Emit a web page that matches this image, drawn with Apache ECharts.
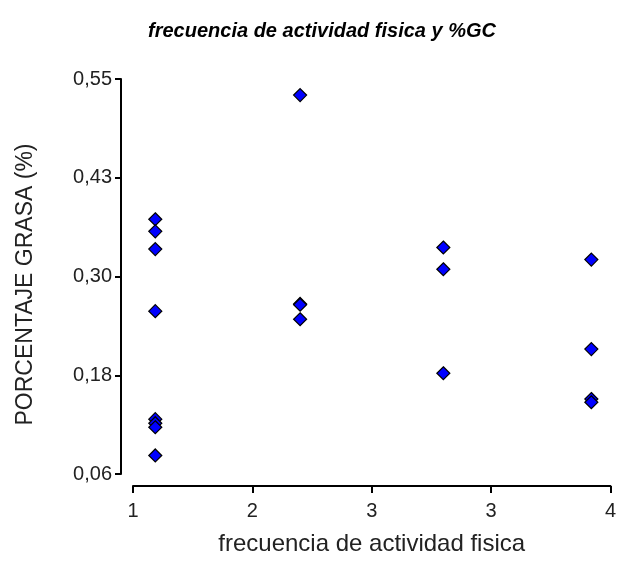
<!DOCTYPE html>
<html>
<head>
<meta charset="utf-8">
<script src="https://cdn.jsdelivr.net/npm/echarts@6/dist/echarts.min.js"></script>
<style>
  html, body { margin: 0; padding: 0; background: #fff; }
  #chart { width: 619px; height: 561px; }
</style>
</head>
<body>
<div id="chart"></div>
<script>
// datos
const frecuencia = [
  1.14, 1.14, 1.14, 1.14, 1.14, 1.14, 1.14, 1.14,
  2.05, 2.05, 2.05, 2.05,
  2.95, 2.95, 2.95,
  3.88, 3.88, 3.88, 3.88
];
const grasa = [
  0.376, 0.361, 0.339, 0.262, 0.128, 0.123, 0.118, 0.083,
  0.530, 0.271, 0.270, 0.252,
  0.341, 0.314, 0.185,
  0.326, 0.215, 0.153, 0.149
];

// ticks del eje (los rotulos vienen redondeados como en el original)
const yTicks = [0.06, 0.1825, 0.305, 0.4275, 0.55];
const yTickLabels = ["0,06", "0,18", "0,30", "0,43", "0,55"];
const xTicks = [1, 1.75, 2.5, 3.25, 4];
const xTickLabels = ["1", "2", "3", "3", "4"];

const puntos = frecuencia.map((x, i) => [x, grasa[i]]);

const chart = echarts.init(document.getElementById("chart"));

const option = {
  animation: false,
  title: {
    text: "frecuencia de actividad fisica y %GC",
    left: 317,
    top: 16,
    textAlign: "center",
    textStyle: {
      fontFamily: "Liberation Sans",
      fontStyle: "italic",
      fontWeight: "bold",
      fontSize: 20,
      color: "#000",
    },
  },
  grid: {
    left: 133,
    right: 5,
    top: 79,
    bottom: 86,
  },
  xAxis: {
    type: "value",
    min: 1,
    max: 4,
    offset: 12,
    name: "frecuencia de actividad fisica",
    nameLocation: "middle",
    nameGap: 46,
    nameTextStyle: {
      fontFamily: "Liberation Sans",
      fontSize: 24,
      color: "#222",
    },
    splitLine: { show: false },
    axisLine: { lineStyle: { color: "#000", width: 2 } },
    axisTick: {
      customValues: xTicks,
      length: 7,
      lineStyle: { color: "#000", width: 2 },
    },
    axisLabel: {
      customValues: xTicks,
      formatter: (v) => xTickLabels[xTicks.indexOf(v)],
      fontFamily: "Liberation Sans",
      fontSize: 20,
      color: "#222",
      margin: 15,
    },
  },
  yAxis: {
    type: "value",
    min: 0.06,
    max: 0.55,
    offset: 12,
    name: "PORCENTAJE GRASA (%)",
    nameLocation: "middle",
    nameGap: 84,
    nameTextStyle: {
      fontFamily: "Liberation Sans",
      fontSize: 23,
      color: "#222",
      padding: [0, 16, 0, 0],
    },
    splitLine: { show: false },
    axisLine: { show: true, lineStyle: { color: "#000", width: 2 } },
    axisTick: {
      show: true,
      customValues: yTicks,
      length: 6,
      lineStyle: { color: "#000", width: 2 },
    },
    axisLabel: {
      customValues: yTicks,
      formatter: (v) => {
        const i = yTicks.findIndex((t) => Math.abs(t - v) < 1e-6);
        return i >= 0 ? yTickLabels[i] : "";
      },
      fontFamily: "Liberation Sans",
      fontSize: 20,
      color: "#222",
      margin: 9,
    },
  },
  series: [
    {
      type: "scatter",
      data: puntos,
      symbol: "diamond",
      symbolSize: 13,
      itemStyle: {
        color: "#0000ff",
        opacity: 1,
        borderColor: "#000",
        borderWidth: 1.2,
      },
    },
  ],
};

chart.setOption(option);
</script>
</body>
</html>
